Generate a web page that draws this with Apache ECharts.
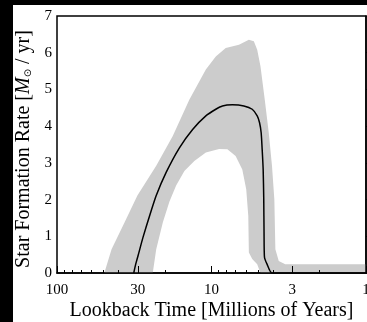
<!DOCTYPE html>
<html>
<head>
<meta charset="utf-8">
<script src="https://cdn.jsdelivr.net/npm/echarts@6/dist/echarts.min.js"></script>
<style>
  html, body { margin: 0; padding: 0; background: #000; width: 367px; height: 322px; overflow: hidden; }
  #chart { position: absolute; left: 13px; top: 5px; width: 354px; height: 317px; background: #fff; }
</style>
</head>
<body>
<div id="chart"></div>
<script>
// Lookback time (Myr) and star formation rate (Msun/yr)
var lineTime = [31.86, 30.94, 29.89, 27.76, 25.15, 22.79, 19.66, 16.13, 13.25, 10.88, 9.38, 8.50, 7.33, 6.17, 5.45, 5.06, 4.89, 4.77, 4.70, 4.63, 4.59, 4.57, 4.54, 4.37, 4.06, 1];
var lineSFR  = [0, 0.24, 0.47, 0.97, 1.56, 2.11, 2.74, 3.41, 3.91, 4.28, 4.46, 4.55, 4.58, 4.55, 4.46, 4.28, 4.10, 3.82, 3.37, 2.82, 2.01, 1.10, 0.43, 0.24, 0, 0];

var bandUpperTime = [49.41, 44.34, 36.5, 30.17, 22.79, 17.81, 13.92, 10.88, 9.38, 8.09, 6.64, 5.73, 5.32, 5.06, 4.82, 4.52, 4.26, 4.06, 3.92, 3.86, 3.67, 3.33, 1];
var bandUpperSFR  = [0, 0.65, 1.38, 2.11, 2.92, 3.73, 4.72, 5.54, 5.90, 6.13, 6.22, 6.35, 6.31, 6.08, 5.63, 4.72, 3.82, 2.92, 2.01, 0.65, 0.33, 0.24, 0.24];

var bandLowerTime = [24.0, 22.79, 20.64, 18.71, 16.94, 14.98, 12.92, 10.88, 8.93, 7.89, 6.98, 6.32, 5.96, 5.78, 5.73, 5.45, 5.06, 4.82, 1];
var bandLowerSFR  = [0, 0.65, 1.38, 1.95, 2.38, 2.78, 3.05, 3.28, 3.38, 3.37, 3.19, 2.82, 2.28, 1.56, 0.56, 0.38, 0.24, 0, 0];

var xLabelTicks = [100, 30, 10, 3, 1];
var xMinorTicks = [90, 80, 70, 60, 50, 40, 20, 9, 8, 7, 6, 5, 4, 2];

var FONT = 'Liberation Serif';

var chart = echarts.init(document.getElementById('chart'), null, { renderer: 'canvas' });

var lineData = lineTime.map(function (t, i) { return [t, lineSFR[i]]; });
var upperPts = bandUpperTime.map(function (t, i) { return [t, bandUpperSFR[i]]; });
var lowerPts = bandLowerTime.map(function (t, i) { return [t, bandLowerSFR[i]]; });
var polyPts = upperPts.concat(lowerPts.slice().reverse());

function lg(v) { return Math.log10(v); }

var option = {
  animation: false,
  backgroundColor: '#fff',
  grid: { left: 44, top: 11, right: 1, bottom: 49, show: true, borderColor: '#000', borderWidth: 1.5,
    containLabel: false, outerBoundsMode: 'none' },
  xAxis: [
    {
      type: 'log', logBase: 10, min: 1, max: 100, inverse: true, position: 'bottom', z: 10,
      axisLine: { show: true, lineStyle: { color: '#000', width: 1.5 } },
      axisTick: { show: false },
      axisLabel: { show: false },
      splitLine: { show: false },
      minorTick: { show: false },
      name: 'Lookback Time [Millions of Years]',
      nameLocation: 'middle', nameGap: 28,
      nameTextStyle: { fontFamily: FONT, fontSize: 20, color: '#000' }
    },
    {
      type: 'value', min: 0, max: 2, inverse: true, position: 'bottom', z: 10,
      axisLine: { show: false },
      axisTick: { show: true, inside: true, length: 7, customValues: xLabelTicks.map(lg), lineStyle: { color: '#000', width: 1 } },
      axisLabel: { show: true, customValues: xLabelTicks.map(lg), margin: 10, fontFamily: FONT, fontSize: 15, color: '#000',
        formatter: function (v) { return String(Math.round(Math.pow(10, v))); } },
      splitLine: { show: false }
    },
    {
      type: 'value', min: 0, max: 2, inverse: true, position: 'bottom', z: 10,
      axisLine: { show: false },
      axisTick: { show: true, inside: true, length: 3, customValues: xMinorTicks.map(lg), lineStyle: { color: '#000', width: 1 } },
      axisLabel: { show: false },
      splitLine: { show: false }
    }
  ],
  yAxis: [{
    type: 'value', min: 0, max: 7, interval: 1, z: 10,
    axisLine: { show: true, lineStyle: { color: '#000', width: 1.5 } },
    axisTick: { show: true, inside: true, length: 7, lineStyle: { color: '#000', width: 1 } },
    axisLabel: { margin: 5, fontFamily: FONT, fontSize: 15, color: '#000' },
    splitLine: { show: false },
    name: '{n|Star Formation Rate [}{i|M}{s|⊙}{n| / yr]}',
    nameLocation: 'middle', nameGap: 16, nameRotate: 90,
    nameTextStyle: {
      fontFamily: FONT, fontSize: 20, color: '#000', padding: [0, 9, 0, 0],
      rich: {
        n: { fontFamily: FONT, fontSize: 20, color: '#000' },
        i: { fontFamily: FONT, fontSize: 20, fontStyle: 'italic', color: '#000' },
        s: { fontFamily: 'DejaVu Sans', fontSize: 10, color: '#000', verticalAlign: 'bottom', padding: [7, 0, 0, 0] }
      }
    }
  }],
  series: [
    {
      type: 'custom', xAxisIndex: 0, yAxisIndex: 0, z: 1, silent: true,
      data: [[bandUpperTime[0], bandUpperSFR[0]]],
      renderItem: function (params, api) {
        var pts = polyPts.map(function (p) { return api.coord(p); });
        return { type: 'polygon', shape: { points: pts }, style: { fill: '#cccccc', stroke: null } };
      }
    },
    {
      type: 'line', xAxisIndex: 0, yAxisIndex: 0, z: 3, data: lineData, showSymbol: false, symbol: 'none',
      smooth: 0.2, lineStyle: { color: '#000', width: 1.5 }
    }
  ]
};
chart.setOption(option);
</script>
</body>
</html>
